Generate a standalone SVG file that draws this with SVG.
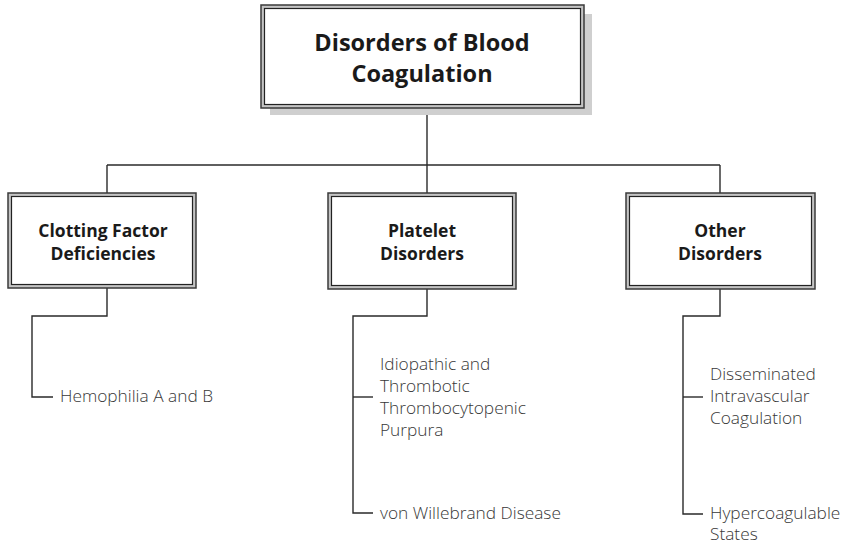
<svg xmlns="http://www.w3.org/2000/svg" width="846" height="546" viewBox="0 0 846 546">
  <style>
    .frame-outer { fill: #c4c4c4; stroke: #3a3a3a; stroke-width: 1.5; }
    .frame-inner { fill: #ffffff; stroke: #222222; stroke-width: 1.2; }
    .shadow { fill: #cfcfcf; }
    .title { font-family: "Open Sans", "Noto Sans", sans-serif; font-weight: 700; fill: #1a1a1a; text-anchor: middle; }
    .leaf { font-family: "Open Sans", "Noto Sans", sans-serif; font-weight: 300; font-size: 17.3px; fill: #383838; }
    .wire { fill: none; stroke: #2a2a2a; stroke-width: 1.4; }
  </style>

  <!-- connectors -->
  <g id="connectors">
    <path class="wire" d="M427 108 V193"/>
    <path class="wire" d="M107 165 H720"/>
    <path class="wire" d="M107 165 V193"/>
    <path class="wire" d="M720 165 V193"/>
    <!-- clotting factor branch -->
    <path class="wire" d="M107 288 V316 H32 V397 H53"/>
    <!-- platelet branch -->
    <path class="wire" d="M427 289 V316 H353 V513 H373"/>
    <path class="wire" d="M353 397 H373"/>
    <!-- other disorders branch -->
    <path class="wire" d="M720 289 V316 H683 V514 H703"/>
    <path class="wire" d="M683 397 H703"/>
  </g>

  <!-- root -->
  <g id="root">
    <rect class="shadow" x="270" y="14" width="322" height="101"/>
    <rect class="frame-outer" x="261" y="5" width="323" height="103"/>
    <rect class="frame-inner" x="264.5" y="8.5" width="316" height="96"/>
    <text class="title" x="422" y="51" font-size="23.5">Disorders of Blood</text>
    <text class="title" x="422" y="82" font-size="23.5">Coagulation</text>
  </g>

  <g id="clotting">
    <rect class="frame-outer" x="8" y="193" width="188" height="95"/>
    <rect class="frame-inner" x="11.5" y="196.5" width="181" height="88"/>
    <text class="title" x="103" y="237" font-size="17.5">Clotting Factor</text>
    <text class="title" x="103" y="260" font-size="17.5">Deficiencies</text>
  </g>

  <g id="platelet">
    <rect class="frame-outer" x="328" y="193" width="188" height="96"/>
    <rect class="frame-inner" x="331.5" y="196.5" width="181" height="89"/>
    <text class="title" x="422" y="237" font-size="17.5">Platelet</text>
    <text class="title" x="422" y="260" font-size="17.5">Disorders</text>
  </g>

  <g id="other">
    <rect class="frame-outer" x="626" y="193" width="189" height="96"/>
    <rect class="frame-inner" x="629.5" y="196.5" width="182" height="89"/>
    <text class="title" x="720" y="237" font-size="17.5">Other</text>
    <text class="title" x="720" y="260" font-size="17.5">Disorders</text>
  </g>

  <g id="hemophilia">
    <text class="leaf" x="60" y="402">Hemophilia A and B</text>
  </g>

  <g id="ttp">
    <text class="leaf" x="380" y="370">Idiopathic and</text>
    <text class="leaf" x="380" y="392">Thrombotic</text>
    <text class="leaf" x="380" y="414">Thrombocytopenic</text>
    <text class="leaf" x="380" y="436">Purpura</text>
  </g>

  <g id="vwd">
    <text class="leaf" x="380" y="519">von Willebrand Disease</text>
  </g>

  <g id="dic">
    <text class="leaf" x="710" y="380">Disseminated</text>
    <text class="leaf" x="710" y="402">Intravascular</text>
    <text class="leaf" x="710" y="424">Coagulation</text>
  </g>

  <g id="hypercoag">
    <text class="leaf" x="710" y="519">Hypercoagulable</text>
    <text class="leaf" x="710" y="540">States</text>
  </g>
</svg>
